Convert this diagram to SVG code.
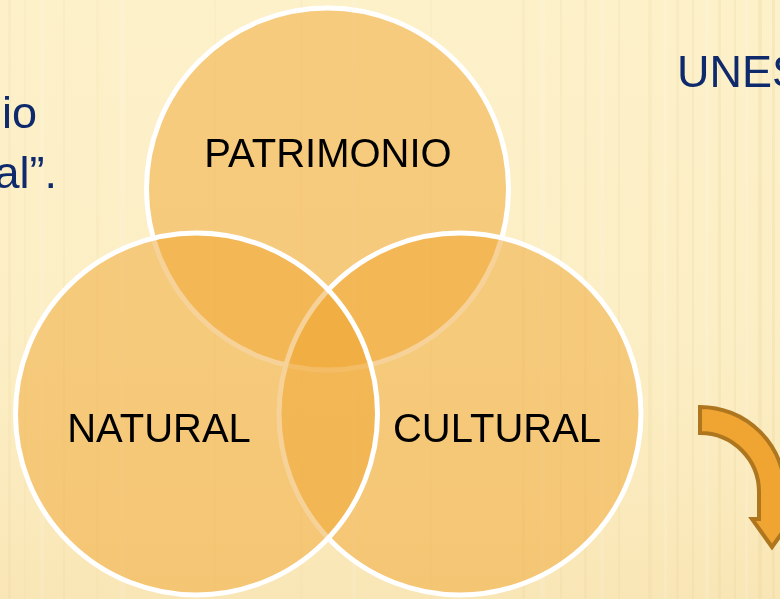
<svg xmlns="http://www.w3.org/2000/svg" width="780" height="599" viewBox="0 0 780 599">
  <style>
    .venn { fill: #EFA532; fill-opacity: 0.5; stroke: #FFFFFF; stroke-width: 5; }
    .lbl { font-family: "Liberation Sans", Arial, sans-serif; font-size: 40px; fill: #000000; text-anchor: middle; }
    .side { font-family: "Liberation Sans", Arial, sans-serif; font-size: 45px; fill: #0E2A6C; }
    .st { fill: #E6CD8E; }
    .sw { fill: #FFFFFF; }
  </style>
  <defs>
    <linearGradient id="bg" x1="0" y1="0" x2="0" y2="1">
      <stop offset="0" stop-color="#FDF1CA"/>
      <stop offset="0.6" stop-color="#FCEEC4"/>
      <stop offset="1" stop-color="#F9E6B6"/>
    </linearGradient>
  </defs>
  <g id="background">
    <rect x="0" y="0" width="780" height="599" fill="url(#bg)"/>
    <g opacity="0.22">
      <rect class="st" x="8" y="0" width="3" height="599" opacity="0.5"/>
      <rect class="st" x="24" y="0" width="2" height="599" opacity="0.4"/>
      <rect class="sw" x="40" y="0" width="4" height="599" opacity="0.5"/>
      <rect class="st" x="63" y="0" width="2" height="599" opacity="0.5"/>
      <rect class="st" x="96" y="0" width="3" height="599" opacity="0.4"/>
      <rect class="sw" x="120" y="0" width="5" height="599" opacity="0.5"/>
      <rect class="st" x="214" y="0" width="2" height="599" opacity="0.4"/>
      <rect class="st" x="300" y="0" width="3" height="599" opacity="0.4"/>
      <rect class="sw" x="352" y="0" width="4" height="599" opacity="0.5"/>
      <rect class="st" x="430" y="0" width="2" height="599" opacity="0.4"/>
      <rect class="st" x="522" y="0" width="3" height="599" opacity="0.5"/>
      <rect class="sw" x="540" y="0" width="5" height="599" opacity="0.5"/>
      <rect class="st" x="560" y="0" width="2" height="599" opacity="0.6"/>
      <rect class="st" x="584" y="0" width="3" height="599" opacity="0.5"/>
      <rect class="sw" x="600" y="0" width="4" height="599" opacity="0.5"/>
      <rect class="st" x="618" y="0" width="2" height="599" opacity="0.6"/>
      <rect class="st" x="648" y="0" width="4" height="599" opacity="0.7"/>
      <rect class="sw" x="664" y="0" width="3" height="599" opacity="0.6"/>
      <rect class="st" x="676" y="0" width="3" height="599" opacity="0.7"/>
      <rect class="st" x="692" y="0" width="2" height="599" opacity="0.8"/>
      <rect class="sw" x="705" y="0" width="4" height="599" opacity="0.6"/>
      <rect class="st" x="718" y="0" width="3" height="599" opacity="0.8"/>
      <rect class="st" x="734" y="0" width="2" height="599" opacity="0.8"/>
      <rect class="sw" x="745" y="0" width="3" height="599" opacity="0.6"/>
      <rect class="st" x="758" y="0" width="4" height="599" opacity="0.9"/>
      <rect class="st" x="772" y="0" width="3" height="599" opacity="0.9"/>
    </g>
  </g>
  <g id="side-text">
    <text class="side" x="37" y="128" text-anchor="end">io</text>
    <text class="side" x="57" y="188" text-anchor="end">al”.</text>
    <text class="side" x="677" y="87">UNES</text>
  </g>
  <g id="patrimonio">
    <circle class="venn" cx="327.5" cy="189" r="181"/>
  </g>
  <g id="cultural">
    <circle class="venn" cx="460" cy="414" r="181"/>
  </g>
  <g id="natural">
    <circle class="venn" cx="196.5" cy="414" r="181"/>
  </g>
  <g id="labels">
    <text class="lbl" x="328" y="167">PATRIMONIO</text>
    <text class="lbl" x="159" y="442">NATURAL</text>
    <text class="lbl" x="497" y="442">CULTURAL</text>
  </g>
  <g id="arrow">
    <path d="M700,407 A85,85 0 0 1 785,492 L785,519 L792,519 L772,547 L752,519 L759,519 L759,492 A59,59 0 0 0 700,433 Z" fill="#F0A532" stroke="#AE771F" stroke-width="4" stroke-linejoin="miter"/>
  </g>
</svg>
